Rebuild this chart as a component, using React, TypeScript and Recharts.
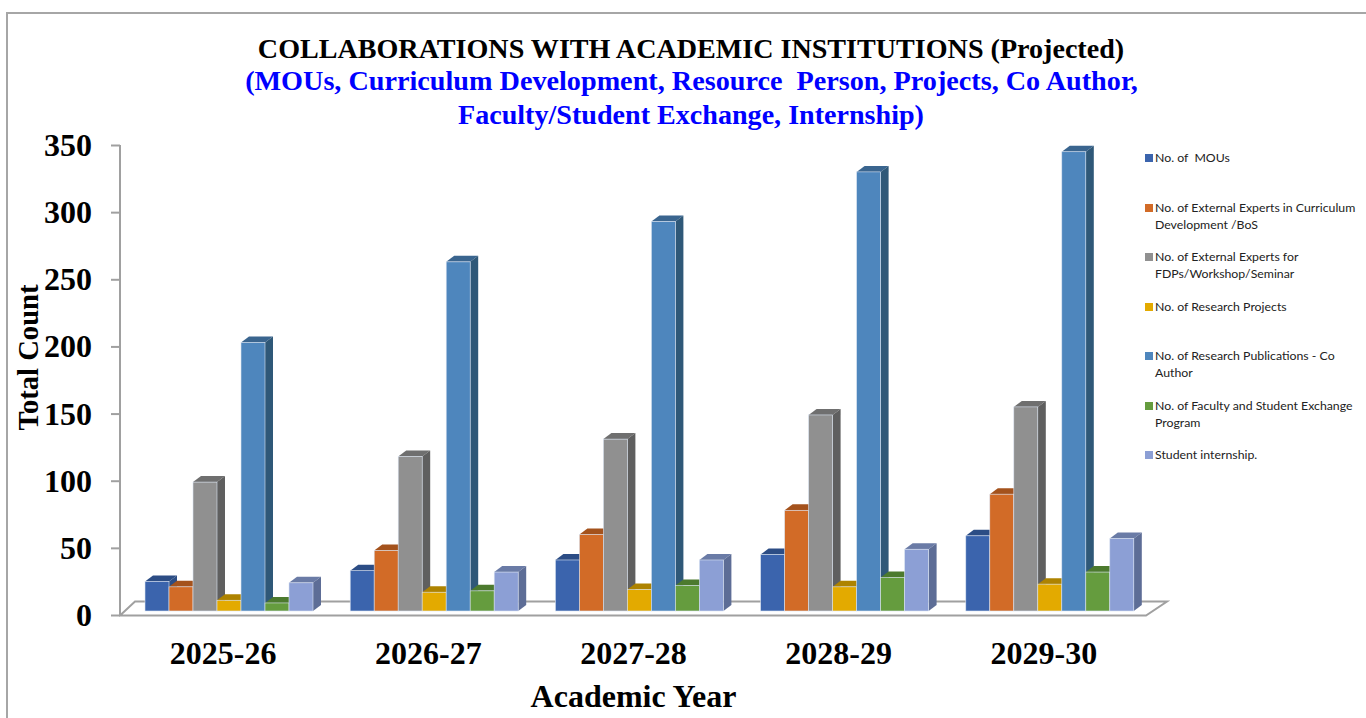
import { Bar, BarChart, Legend, XAxis, YAxis } from "recharts";

const years = ["2025-26", "2026-27", "2027-28", "2028-29", "2029-30"];
const mous = [22, 30, 38, 42, 56];
const curriculum = [18, 45, 57, 75, 87];
const fdps = [96, 115, 128, 146, 152];
const projects = [8, 14, 16, 18, 20];
const publications = [200, 260, 290, 327, 342];
const exchange = [6, 15, 19, 25, 29];
const internship = [21, 29, 38, 46, 54];
const valueTicks = [0, 50, 100, 150, 200, 250, 300, 350];

const data = years.map((year, i) => ({
  year,
  mous: mous[i],
  curriculum: curriculum[i],
  fdps: fdps[i],
  projects: projects[i],
  publications: publications[i],
  exchange: exchange[i],
  internship: internship[i],
}));

const series = [
  { key: "mous", name: "No. of  MOUs", front: "#3b64ad", top: "#2c4d85", side: "#2c4d85" },
  { key: "curriculum", name: "No. of External Experts in Curriculum Development /BoS", front: "#d26b27", top: "#a4521c", side: "#a4521c" },
  { key: "fdps", name: "No. of External Experts for FDPs/Workshop/Seminar", front: "#909090", top: "#6f6f6f", side: "#5f5f5f" },
  { key: "projects", name: "No. of Research Projects", front: "#e3aa00", top: "#ae8300", side: "#ae8300" },
  { key: "publications", name: "No. of Research Publications - Co Author", front: "#4e86bd", top: "#3a658f", side: "#2f5878" },
  { key: "exchange", name: "No. of Faculty and Student Exchange Program", front: "#659c3e", top: "#4c7a2e", side: "#4c7a2e" },
  { key: "internship", name: "Student internship.", front: "#8c9fd5", top: "#6a7ba6", side: "#5d6d96" },
];

const serif = "'Liberation Serif', serif";
const DEPTH_X = 8;
const DEPTH_Y = 6;

function Box3D(props: any) {
  const { x, y, width, height, front, top, side } = props;
  const r = x + width;
  const b = y + height;
  return (
    <g>
      <polygon points={`${x},${y} ${x + DEPTH_X},${y - DEPTH_Y} ${r + DEPTH_X},${y - DEPTH_Y} ${r},${y}`} fill={top} />
      <polygon points={`${r},${y} ${r + DEPTH_X},${y - DEPTH_Y} ${r + DEPTH_X},${b - DEPTH_Y} ${r},${b}`} fill={side} />
      <rect x={x} y={y} width={width} height={height} fill={front} stroke="#dbe4f2" strokeWidth={0.6} />
    </g>
  );
}

function ValueTick(props: any) {
  const { x, y, payload } = props;
  return (
    <g>
      <line x1={x - 16} x2={x - 7} y1={y + 4.5} y2={y + 4.5} stroke="#a0a0a0" strokeWidth={2} />
      <text x={x - 35} y={y + 15} textAnchor="end" fontFamily={serif} fontWeight="bold" fontSize={32} fill="#000">
        {payload.value}
      </text>
    </g>
  );
}

function CategoryTick(props: any) {
  const { x, y, payload } = props;
  return (
    <text x={x - 6.5} y={y + 45} textAnchor="middle" fontFamily={serif} fontWeight="bold" fontSize={32} fill="#000">
      {payload.value}
    </text>
  );
}

function SideLegend(props: any) {
  return (
    <div style={{ fontFamily: "Lato, sans-serif", fontSize: 12.3, lineHeight: "17px", color: "#222", whiteSpace: "pre-wrap" }}>
      {props.payload.map((entry: any) => (
        <div key={entry.value} style={{ position: "relative", height: 49.5, paddingLeft: 12 }}>
          <span style={{ position: "absolute", left: 2, top: 5, width: 8, height: 8, background: entry.color }} />
          {entry.value}
        </div>
      ))}
    </div>
  );
}

export default function App() {
  return (
    <div style={{ position: "fixed", left: 0, top: 0, width: 1366, height: 718, overflow: "hidden", background: "#fff" }}>
      <div style={{ position: "absolute", left: 6, top: 12, width: 1400, height: 800, border: "2px solid #a6a6a6" }} />
      <BarChart
        width={1366}
        height={718}
        data={data}
        barGap={0}
        barCategoryGap={18}
        margin={{ top: 141, right: 213, bottom: 0, left: 67 }}
        style={{ position: "absolute", left: 0, top: 0 }}
      >
        <g stroke="#a0a0a0" strokeWidth={2} fill="none">
          <polyline points="120,145 120,615.5 1146,615.5 1167,601.5 135,601.5 120,615.5" />
        </g>
        <XAxis dataKey="year" height={107} axisLine={false} tickLine={false} tick={<CategoryTick />} interval={0} />
        <YAxis
          width={60}
          domain={[0, 350]}
          ticks={valueTicks}
          axisLine={false}
          tickLine={false}
          tickSize={0}
          tickMargin={0}
          tick={<ValueTick />}
          interval={0}
        />
        <Legend
          layout="horizontal"
          verticalAlign="middle"
          align="center"
          itemSorter={null}
          wrapperStyle={{ left: 1143, top: 149, width: 217 }}
          content={<SideLegend />}
        />
        {series.map((s) => (
          <Bar
            key={s.key}
            dataKey={s.key}
            name={s.name}
            fill={s.front}
            isAnimationActive={false}
            shape={(p: any) => <Box3D {...p} front={s.front} top={s.top} side={s.side} />}
          />
        ))}
        <text x={691} y={58} textAnchor="middle" fontFamily={serif} fontWeight="bold" fontSize={28.1} fill="#000">
          COLLABORATIONS WITH ACADEMIC INSTITUTIONS (Projected)
        </text>
        <text x={691.5} y={90} textAnchor="middle" fontFamily={serif} fontWeight="bold" fontSize={28.2} fill="#0000ff" xmlSpace="preserve">
          (MOUs, Curriculum Development, Resource  Person, Projects, Co Author,
        </text>
        <text x={691} y={124} textAnchor="middle" fontFamily={serif} fontWeight="bold" fontSize={28.1} fill="#0000ff">
          Faculty/Student Exchange, Internship)
        </text>
        <text x={633.5} y={707} textAnchor="middle" fontFamily={serif} fontWeight="bold" fontSize={32} fill="#000">
          Academic Year
        </text>
        <text
          x={38}
          y={357.5}
          transform="rotate(-90 38 357.5)"
          textAnchor="middle"
          fontFamily={serif}
          fontWeight="bold"
          fontSize={28.6}
          fill="#000"
        >
          Total Count
        </text>
      </BarChart>
    </div>
  );
}
